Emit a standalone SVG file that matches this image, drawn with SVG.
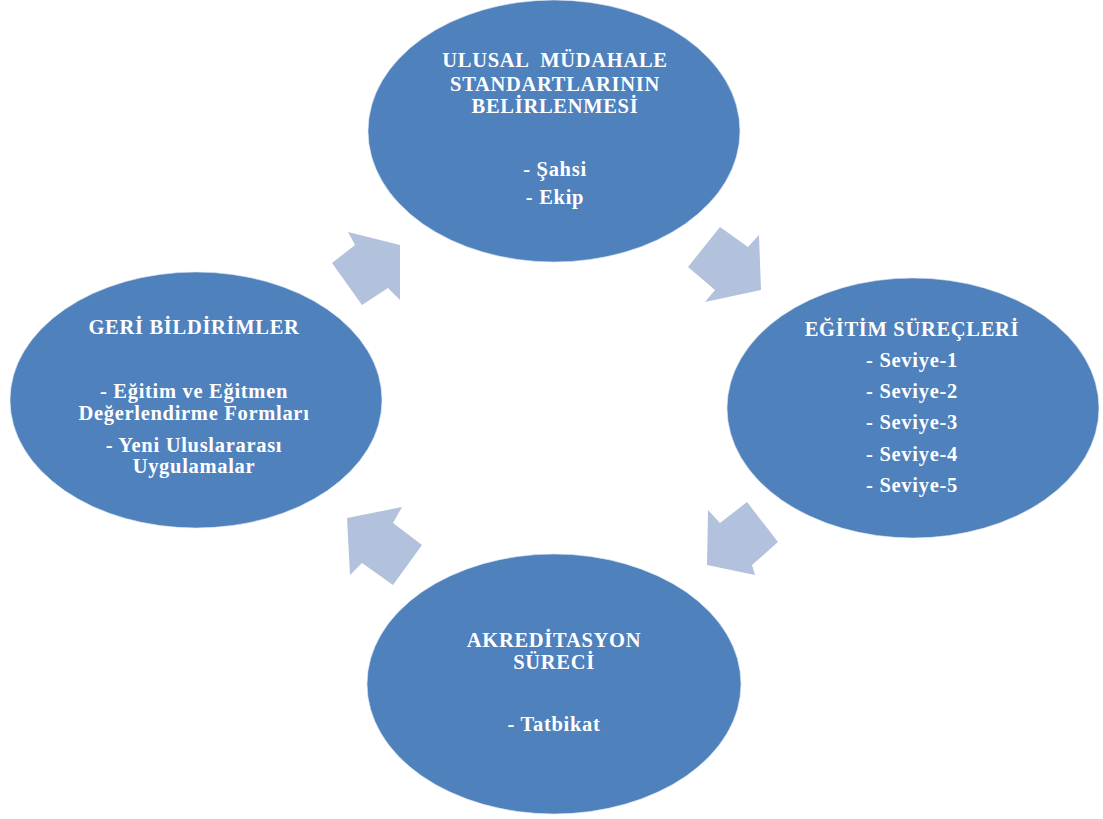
<svg xmlns="http://www.w3.org/2000/svg" width="1103" height="819" viewBox="0 0 1103 819">
  <style>
    .node { fill: #4F81BD; stroke: #dfe8f3; stroke-width: 1; stroke-opacity: 0.6; }
    .flow { fill: #B3C2DC; }
    .t { font-family: "Liberation Serif", "Times New Roman", serif; font-weight: bold; font-size: 20.5px; fill: #ffffff; text-anchor: middle; letter-spacing: 0.7px; white-space: pre; }
  </style>
  <rect width="1103" height="819" fill="#ffffff"/>

  <!-- cycle arrows between stages -->
  <g id="connectors">
    <polygon class="flow" points="400,245 400,300 388,288 362,305 332,263 355,245 348,232"/>
    <polygon class="flow" points="761,290 705,302 715,290 688,267 720,227 748,247 759,235"/>
    <polygon class="flow" points="707,565 708,510 720,523 747,502 778,542 752,565 755,575"/>
    <polygon class="flow" points="347,518 402,507 393,523 422,545 393,585 362,563 350,575"/>
  </g>

  <g id="standards">
    <ellipse class="node" cx="554" cy="131" rx="186" ry="131"/>
    <text class="t" x="555" y="67" xml:space="preserve">ULUSAL  MÜDAHALE</text>
    <text class="t" x="555" y="91">STANDARTLARININ</text>
    <text class="t" x="555" y="113">BELİRLENMESİ</text>
    <text class="t" x="555" y="176">- Şahsi</text>
    <text class="t" x="555" y="204">- Ekip</text>
  </g>

  <g id="training">
    <ellipse class="node" cx="913" cy="408" rx="186" ry="130"/>
    <text class="t" x="912" y="336">EĞİTİM SÜREÇLERİ</text>
    <text class="t" x="912" y="367">- Seviye-1</text>
    <text class="t" x="912" y="398">- Seviye-2</text>
    <text class="t" x="912" y="429">- Seviye-3</text>
    <text class="t" x="912" y="461">- Seviye-4</text>
    <text class="t" x="912" y="492">- Seviye-5</text>
  </g>

  <g id="accreditation">
    <ellipse class="node" cx="554" cy="684" rx="187" ry="130"/>
    <text class="t" x="554" y="647">AKREDİTASYON</text>
    <text class="t" x="554" y="669">SÜRECİ</text>
    <text class="t" x="554" y="731">- Tatbikat</text>
  </g>

  <g id="feedback">
    <ellipse class="node" cx="196" cy="400" rx="186" ry="128"/>
    <text class="t" x="194" y="334">GERİ BİLDİRİMLER</text>
    <text class="t" x="194" y="398">- Eğitim ve Eğitmen</text>
    <text class="t" x="194" y="420">Değerlendirme Formları</text>
    <text class="t" x="194" y="452">- Yeni Uluslararası</text>
    <text class="t" x="194" y="473">Uygulamalar</text>
  </g>
</svg>
